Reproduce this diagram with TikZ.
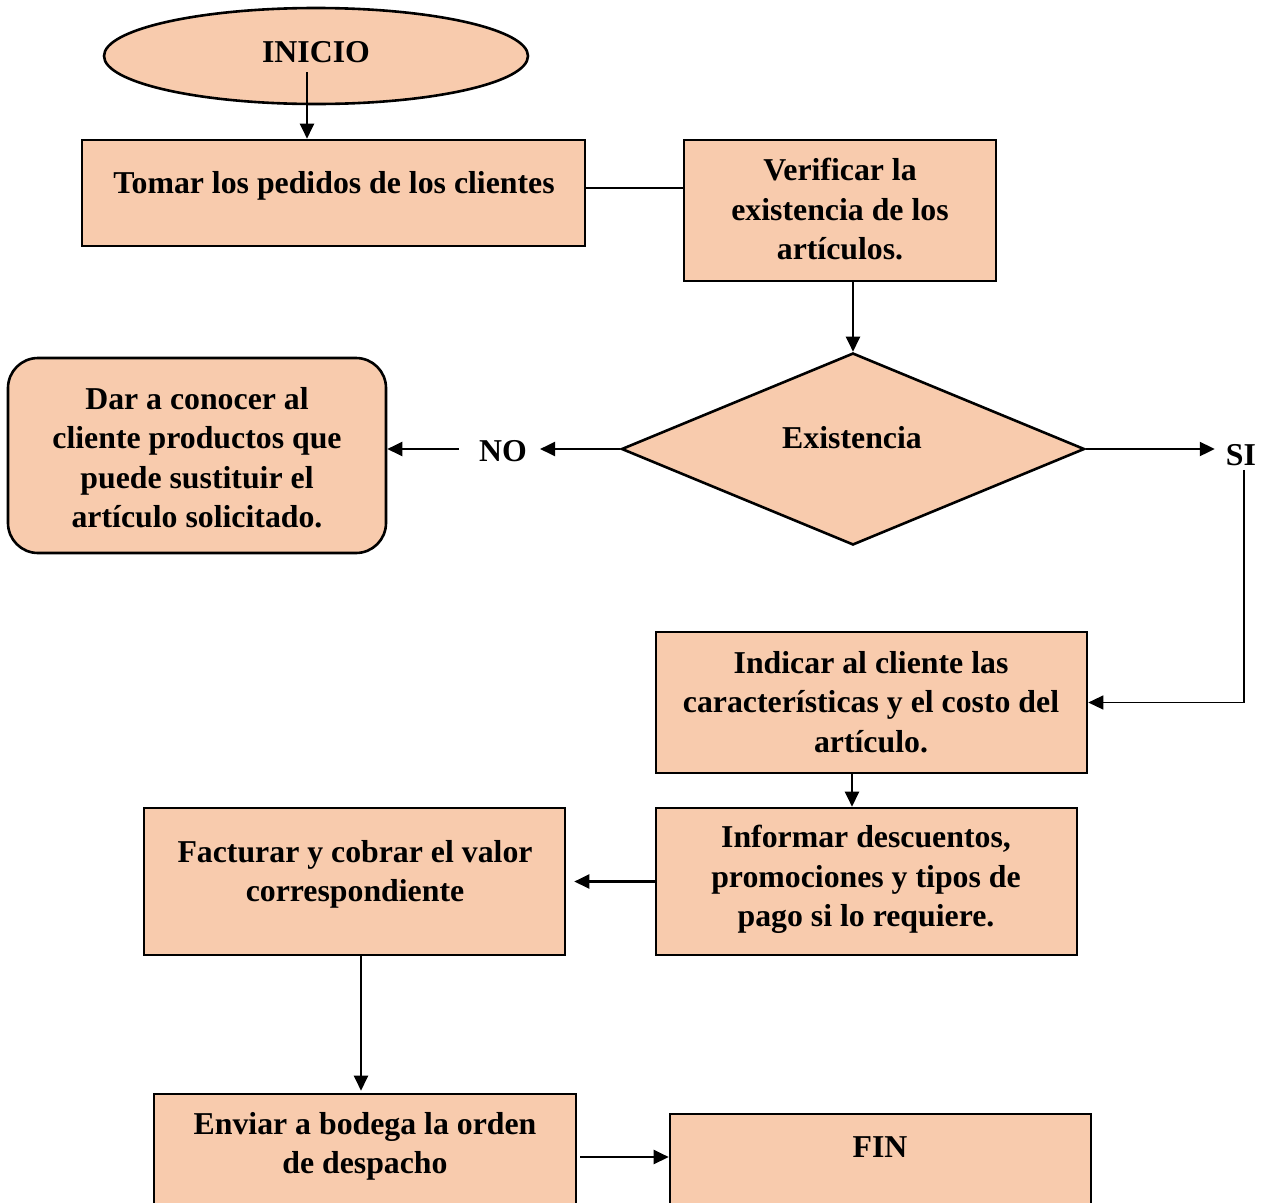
\documentclass[tikz,border=0pt]{standalone}
\usepackage{fontspec}
\setmainfont{Liberation Serif}
\usetikzlibrary{shapes.geometric,arrows.meta}
\definecolor{peach}{HTML}{F8CBAD}
\begin{document}
\begin{tikzpicture}[x=1pt,y=-1pt,
  every node/.style={font=\bfseries\fontsize{31.8}{39.5}\selectfont},
  box/.style={draw, line width=2.6pt, fill=peach, inner sep=0pt, rectangle},
  txt/.style={align=center, anchor=north, inner sep=0pt},
  tip/.style={-{Triangle[length=15pt,width=14pt]}},
  arr/.style={line width=2.2pt, tip},
  link/.style={line width=1.3pt}]
\useasboundingbox (0,0) rectangle (1265,1202);
\clip (0,0) rectangle (1265,1202);

% shapes
\node[box, ellipse, minimum width=424pt, minimum height=96pt] (inicio) at (316,56) {};
\node[box, minimum width=503pt, minimum height=106pt] (tomar) at (333.5,193) {};
\node[box, minimum width=312pt, minimum height=141pt] (verif) at (840,210.5) {};
\node[box, diamond, minimum width=463pt, minimum height=192pt] (exist) at (853,449) {};
\node[box, rounded corners=30pt, minimum width=378pt, minimum height=195pt] (sust) at (197,455.5) {};
\node[box, minimum width=431pt, minimum height=141pt] (indicar) at (871.5,702.5) {};
\node[box, minimum width=421pt, minimum height=147pt] (informar) at (866.5,881.5) {};
\node[box, minimum width=421pt, minimum height=147pt] (facturar) at (354.5,881.5) {};
\node[box, minimum width=422pt, minimum height=136pt] (enviar) at (365,1162) {};
\node[box, minimum width=421pt, minimum height=116pt] (fin) at (880.5,1172) {};

% texts
\node[txt] (tInicio) at (316,41) {INICIO};
\node[txt] (tTomar) at (334,171) {Tomar los pedidos de los clientes};
\node[txt] (tVerif) at (840,158) {Verificar la\\existencia de los\\artículos.};
\node[txt] (tExist) at (852,426) {Existencia};
\node[txt] (no) at (503,440) {NO};
\node[txt] (tSust) at (197,387) {Dar a conocer al\\cliente productos que\\puede sustituir el\\artículo solicitado.};
\node[txt] (si) at (1241,444) {SI};
\node[txt] (tIndicar) at (871,651) {Indicar al cliente las\\características y el costo del\\artículo.};
\node[txt] (tInformar) at (866,825) {Informar descuentos,\\promociones y tipos de\\pago si lo requiere.};
\node[txt] (tFacturar) at (355,840) {Facturar y cobrar el valor\\correspondiente};
\node[txt] (tEnviar) at (365,1112) {Enviar a bodega la orden\\de despacho};
\node[txt] (tFin) at (880,1136) {FIN};

% connectors
\coordinate (a0) at (307,72);
\draw[arr] (a0) -- (a0 |- tomar.north);
\coordinate (l0) at (585,188);
\draw[link] (l0) -- (l0 -| verif.west);
\draw[arr] (verif.south -| exist.north) -- (exist.north);
\draw[arr] (exist.west) -- ([xshift=13pt]no.east |- exist.west);
\draw[arr] ([xshift=-20pt]no.west |- exist.west) -- (sust.east |- exist.west);
\draw[arr] (exist.east) -- ([xshift=-11pt]si.west |- exist.east);
\draw[link, tip] ([xshift=3pt,yshift=-4pt]si.south) |- (indicar.east);
\coordinate (a3) at (852,773);
\draw[arr] (a3) -- (a3 |- informar.north);
\draw[arr, shorten >=8pt] (informar.west) -- (facturar.east |- informar.west);
\coordinate (a5) at (361,955);
\draw[arr, shorten >=2pt] (a5) -- (a5 |- enviar.north);
\coordinate (a6) at (580,1157);
\draw[arr] (a6) -- (a6 -| fin.west);
\end{tikzpicture}
\end{document}
